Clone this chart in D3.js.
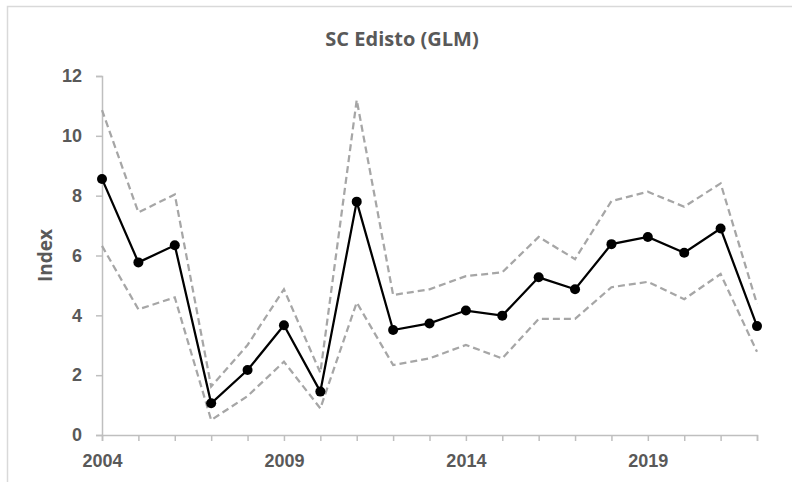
<!DOCTYPE html>
<html lang="en">
<head>
  <meta charset="UTF-8" />
  <title>SC Edisto (GLM)</title>
  <style>
    html, body { margin: 0; padding: 0; background: #fff; }
    svg { display: block; font-family: "Open Sans", "Liberation Sans", sans-serif; }
  </style>
</head>
<body>
<svg id="chart" width="792" height="482"></svg>
<script src="https://d3js.org/d3.v7.min.js"></script>
<script>
  // values
  const years = [2004, 2005, 2006, 2007, 2008, 2009, 2010, 2011, 2012, 2013,
                 2014, 2015, 2016, 2017, 2018, 2019, 2020, 2021, 2022];
  const indexVals = [8.56, 5.77, 6.34, 1.06, 2.17, 3.67, 1.45, 7.80, 3.51, 3.73,
                     4.16, 3.99, 5.27, 4.87, 6.38, 6.62, 6.09, 6.90, 3.64];
  const upperVals = [10.86, 7.44, 8.04, 1.62, 3.01, 4.87, 2.08, 11.2, 4.68, 4.87,
                     5.31, 5.44, 6.62, 5.88, 7.82, 8.13, 7.63, 8.41, 4.38];
  const lowerVals = [6.32, 4.20, 4.60, 0.50, 1.30, 2.45, 0.89, 4.43, 2.34, 2.56,
                     3.01, 2.56, 3.88, 3.88, 4.94, 5.12, 4.54, 5.38, 2.78];
  const yTicks = [0, 2, 4, 6, 8, 10, 12];
  const xLabels = [2004, 2009, 2014, 2019];

  const svg = d3.select("#chart");
  const textColor = "#595959";
  const axisColor = "#bfbfbf";

  // outer chart border
  svg.append("rect")
    .attr("x", 7.5).attr("y", 6.5)
    .attr("width", 820).attr("height", 520)
    .attr("fill", "none")
    .attr("stroke", "#d9d9d9")
    .attr("stroke-width", 1.5);

  const x = d3.scaleLinear().domain([2004, 2022]).range([102, 757]);
  const y = d3.scaleLinear().domain([0, 12]).range([435, 76]);

  // title
  svg.append("text")
    .attr("x", 402).attr("y", 46)
    .attr("text-anchor", "middle")
    .attr("font-size", "20px")
    .attr("font-weight", "bold")
    .attr("fill", textColor)
    .text("SC Edisto (GLM)");

  // y axis
  const yAxis = svg.append("g")
    .attr("transform", `translate(${x(2004)},0)`)
    .call(d3.axisLeft(y).tickValues(yTicks).tickSize(6).tickPadding(14));
  yAxis.select(".domain").attr("stroke", axisColor).attr("stroke-width", 1.5);
  yAxis.selectAll(".tick line").attr("stroke", axisColor).attr("stroke-width", 1.5);
  yAxis.selectAll(".tick text")
    .attr("font-size", "18px").attr("font-weight", "bold")
    .attr("fill", textColor).attr("font-family", null);

  // x axis: a tick every year, labels every five
  const xAxis = svg.append("g")
    .attr("transform", `translate(0,${y(0)})`)
    .call(d3.axisBottom(x).tickValues(years).tickSize(6).tickPadding(13)
      .tickFormat(d => xLabels.includes(d) ? String(d) : ""));
  xAxis.select(".domain").attr("stroke", axisColor).attr("stroke-width", 1.5);
  xAxis.selectAll(".tick line").attr("stroke", axisColor).attr("stroke-width", 1.5);
  xAxis.selectAll(".tick text")
    .attr("font-size", "18px").attr("font-weight", "bold")
    .attr("fill", textColor).attr("font-family", null);

  // y label
  svg.append("text")
    .attr("transform", `translate(52,${(y(0) + y(12)) / 2}) rotate(-90)`)
    .attr("text-anchor", "middle")
    .attr("font-size", "19px")
    .attr("font-weight", "bold")
    .attr("fill", textColor)
    .text("Index");

  const line = d3.line().x((d, i) => x(years[i])).y(d => y(d));

  [upperVals, lowerVals].forEach(vals => {
    svg.append("path")
      .attr("d", line(vals))
      .attr("fill", "none")
      .attr("stroke", "#a6a6a6")
      .attr("stroke-width", 2.25)
      .attr("stroke-dasharray", "7,4");
  });

  svg.append("path")
    .attr("d", line(indexVals))
    .attr("fill", "none")
    .attr("stroke", "#000")
    .attr("stroke-width", 2.25);

  svg.selectAll(".pt")
    .data(indexVals)
    .enter().append("circle")
    .attr("class", "pt")
    .attr("cx", (d, i) => x(years[i]))
    .attr("cy", d => y(d))
    .attr("r", 5)
    .attr("fill", "#000");
</script>
</body>
</html>
